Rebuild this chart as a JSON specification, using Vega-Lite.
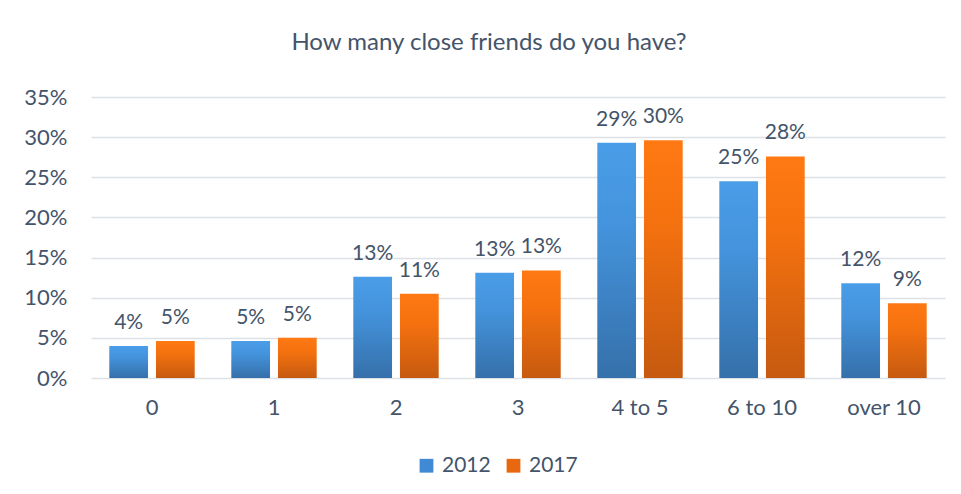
{
  "$schema": "https://vega.github.io/schema/vega-lite/v6.json",
  "width": 854,
  "height": 281,
  "autosize": {"type": "none"},
  "padding": {"left": 91, "top": 97, "right": 16, "bottom": 116},
  "background": "white",
  "title": {
    "text": "How many close friends do you have?",
    "font": "Lato",
    "fontSize": 24,
    "fontWeight": "normal",
    "color": "#44546a",
    "anchor": "middle",
    "dx": -29,
    "offset": 31
  },
  "config": {
    "view": {"stroke": null},
    "font": "Lato",
    "text": {"font": "Lato"}
  },
  "data": {
    "values": [
      {"cat": "0", "year": "2012", "value": 0.040},
      {"cat": "0", "year": "2017", "value": 0.046},
      {"cat": "1", "year": "2012", "value": 0.046},
      {"cat": "1", "year": "2017", "value": 0.050},
      {"cat": "2", "year": "2012", "value": 0.126},
      {"cat": "2", "year": "2017", "value": 0.105},
      {"cat": "3", "year": "2012", "value": 0.131},
      {"cat": "3", "year": "2017", "value": 0.134},
      {"cat": "4 to 5", "year": "2012", "value": 0.293},
      {"cat": "4 to 5", "year": "2017", "value": 0.296},
      {"cat": "6 to 10", "year": "2012", "value": 0.245},
      {"cat": "6 to 10", "year": "2017", "value": 0.276},
      {"cat": "over 10", "year": "2012", "value": 0.118},
      {"cat": "over 10", "year": "2017", "value": 0.093}
    ]
  },
  "encoding": {
    "x": {
      "field": "cat",
      "type": "nominal",
      "sort": null,
      "scale": {"paddingInner": 0.3, "paddingOuter": 0.15},
      "axis": {
        "title": null,
        "labelAngle": 0,
        "labelFont": "Lato",
        "labelFontSize": 22,
        "labelColor": "#44546a",
        "labelPadding": 19,
        "ticks": false,
        "domain": false
      }
    },
    "xOffset": {
      "field": "year",
      "type": "nominal",
      "scale": {"domain": ["2012", "2017"], "paddingInner": 0.17}
    },
    "y": {
      "field": "value",
      "type": "quantitative",
      "scale": {"domain": [0, 0.35], "nice": false},
      "axis": {
        "title": null,
        "format": ".0%",
        "values": [0, 0.05, 0.1, 0.15, 0.2, 0.25, 0.3, 0.35],
        "labelFont": "Lato",
        "labelFontSize": 22,
        "labelColor": "#44546a",
        "labelPadding": 24,
        "ticks": false,
        "domain": false,
        "gridColor": "#dde1e6",
        "gridWidth": 1.5
      }
    }
  },
  "layer": [
    {
      "transform": [{"filter": "datum.year === '2012'"}],
      "mark": {
        "type": "bar",
        "color": {"gradient": "linear", "x1": 0, "y1": 0, "x2": 0, "y2": 1, "stops": [{"offset": 0, "color": "#4a9de8"}, {"offset": 0.35, "color": "#4493dc"}, {"offset": 1, "color": "#3570aa"}]}
      }
    },
    {
      "transform": [{"filter": "datum.year === '2017'"}],
      "mark": {
        "type": "bar",
        "color": {"gradient": "linear", "x1": 0, "y1": 0, "x2": 0, "y2": 1, "stops": [{"offset": 0, "color": "#ff7913"}, {"offset": 0.35, "color": "#f4710f"}, {"offset": 1, "color": "#c65a10"}]}
      }
    },
    {
      "mark": {"type": "point", "shape": "square", "filled": true, "size": 0, "opacity": 1},
      "encoding": {
        "color": {
          "field": "year",
          "type": "nominal",
          "scale": {"domain": ["2012", "2017"], "range": ["#4089d4", "#e8680f"]},
          "legend": {
            "title": null,
            "orient": "none",
            "direction": "horizontal",
            "legendX": 325,
            "legendY": 358,
            "symbolType": "square",
            "symbolSize": 190,
            "symbolOpacity": 1,
            "symbolStrokeWidth": 0,
            "labelFont": "Lato",
            "labelFontSize": 21,
            "labelColor": "#44546a",
            "labelOffset": 5,
            "columnPadding": 12
          }
        }
      }
    },
    {
      "mark": {"type": "text", "baseline": "alphabetic", "dy": -17, "font": "Lato", "fontSize": 21, "color": "#44546a"},
      "encoding": {
        "text": {"field": "value", "type": "quantitative", "format": ".0%"}
      }
    }
  ]
}
